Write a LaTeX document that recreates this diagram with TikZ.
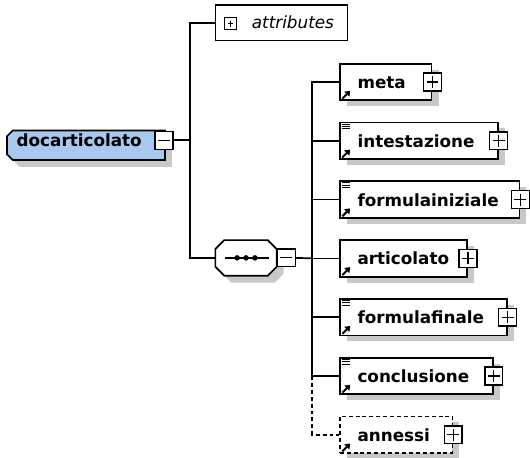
\documentclass[tikz,border=0pt]{standalone}
\usepackage{fontspec}
\setmainfont{DejaVu Sans}
\usetikzlibrary{arrows.meta,positioning,calc,shadows}

\definecolor{rootblue}{RGB}{168,200,240}
\definecolor{shadowgray}{RGB}{200,200,200}

\newcommand{\elemfont}{\fontsize{17}{20}\selectfont\bfseries}
\newcommand{\attrfont}{\fontsize{17}{20}\selectfont\itshape}

\begin{document}
\begin{tikzpicture}[
    x=1pt, y=-1pt,
    line width=1.7pt,
    elem/.style={draw, fill=white, anchor=west, font=\elemfont, text width=#1, align=left,
        inner xsep=18pt, inner ysep=11pt, text height=14pt, text depth=1pt,
        drop shadow={shadow xshift=7pt, shadow yshift=-6pt, fill=shadowgray, opacity=1}},
    optelem/.style={elem=#1, dash pattern=on 4pt off 3pt},
    optline/.style={dash pattern=on 4pt off 3pt},
    toggle/.style={draw, fill=white, minimum size=18pt, inner sep=0pt, line width=1.4pt},
    plusbox/.style={toggle, path picture={
        \draw[line width=1.2pt] ([xshift=3pt]path picture bounding box.west) -- ([xshift=-3pt]path picture bounding box.east)
            ([yshift=-3pt]path picture bounding box.north) -- ([yshift=3pt]path picture bounding box.south);}},
    minusbox/.style={toggle, path picture={
        \draw[line width=1.2pt] ([xshift=3pt]path picture bounding box.west) -- ([xshift=-3pt]path picture bounding box.east);}},
    attrbox/.style={draw, fill=white, line width=1.4pt, font=\attrfont, minimum height=36pt,
        text width=106pt, align=right, inner xsep=14pt, text height=13pt, text depth=1pt},
    refarrow/.style={-{Triangle[length=5pt,width=7pt]}, line width=2pt},
    contentline/.style={line width=0.9pt}
]

\fill[white] (0,0) rectangle (530,463);

% root element
\fill[shadowgray, shift={(7,7)}] (13,132) -- (167,132) -- (167,162) -- (13,162) -- (7,156) -- (7,138) -- cycle;
\filldraw[fill=rootblue] (13,132) -- (167,132) -- (167,162) -- (13,162) -- (7,156) -- (7,138) -- cycle;
\node[anchor=base west, font=\elemfont, inner sep=0pt] (root) at (16,148) {docarticolato};
\node[minusbox] (root-minus) at (166,142) {};

% attributes
\node[attrbox] (attr) at (285,23) {attributes};
\node[plusbox, minimum size=12pt] (attr-plus) at ($(attr.west)+(16,1)$) {};

% sequence compositor
\fill[shadowgray, shift={(7,7)}] (227,243) -- (271,243) -- (280,252) -- (280,270) -- (271,279) -- (227,279) -- (218,270) -- (218,252) -- cycle;
\filldraw[fill=white] (227,243) -- (271,243) -- (280,252) -- (280,270) -- (271,279) -- (227,279) -- (218,270) -- (218,252) -- cycle;
\node[minimum width=62pt, minimum height=36pt, inner sep=0pt] (seq) at (249,261) {};
\draw ($(seq.center)+(-21,0)$) -- ($(seq.center)+(23,0)$);
\foreach \dx in {-9,0,9}
    \fill ($(seq.center)+(\dx,0)$) circle (2.8pt);
\node[minusbox] (seq-minus) at ($(seq.east)+(9,0)$) {};

% child elements
\node[elem=57pt] (meta) at (343,83) {meta};
\node[elem=124pt] (intestazione) at (343,142.5) {intestazione};
\node[elem=146pt] (formulainiziale) at (343,202) {formulainiziale};
\node[elem=93pt] (articolato) at (343,261.5) {articolato};
\node[elem=133pt] (formulafinale) at (343,321) {formulafinale};
\node[elem=119pt] (conclusione) at (343,380.5) {conclusione};
\node[optelem=78pt] (annessi) at (343,440) {annessi};

\foreach \n in {meta,intestazione,formulainiziale,articolato,formulafinale,conclusione,annessi} {
    \node[plusbox] (\n-plus) at (\n.east) {};
    \draw[refarrow] ($(\n.south west)+(3.5,-2.5)$) -- ++(8,-8);
}
\foreach \n in {intestazione,formulainiziale,formulafinale,conclusione}
    \foreach \k in {0,1,2}
        \draw[contentline] ($(\n.north west)+(3,{2.5+2.4*\k})$) -- ++(8,0);

% connectors
\coordinate (trunkA) at (192,142);
\coordinate (trunkB) at (316,261.5);
\draw (root-minus.east) -- (trunkA);
\draw (attr.west) -| (trunkA) |- (seq.west);
\draw (seq-minus.east) -- (trunkB);
\foreach \n in {meta,intestazione,formulainiziale,articolato,formulafinale,conclusione}
    \draw (trunkB) |- (\n.west);
\draw[optline] (trunkB |- conclusione.west) |- (annessi.west);

\end{tikzpicture}
\end{document}
